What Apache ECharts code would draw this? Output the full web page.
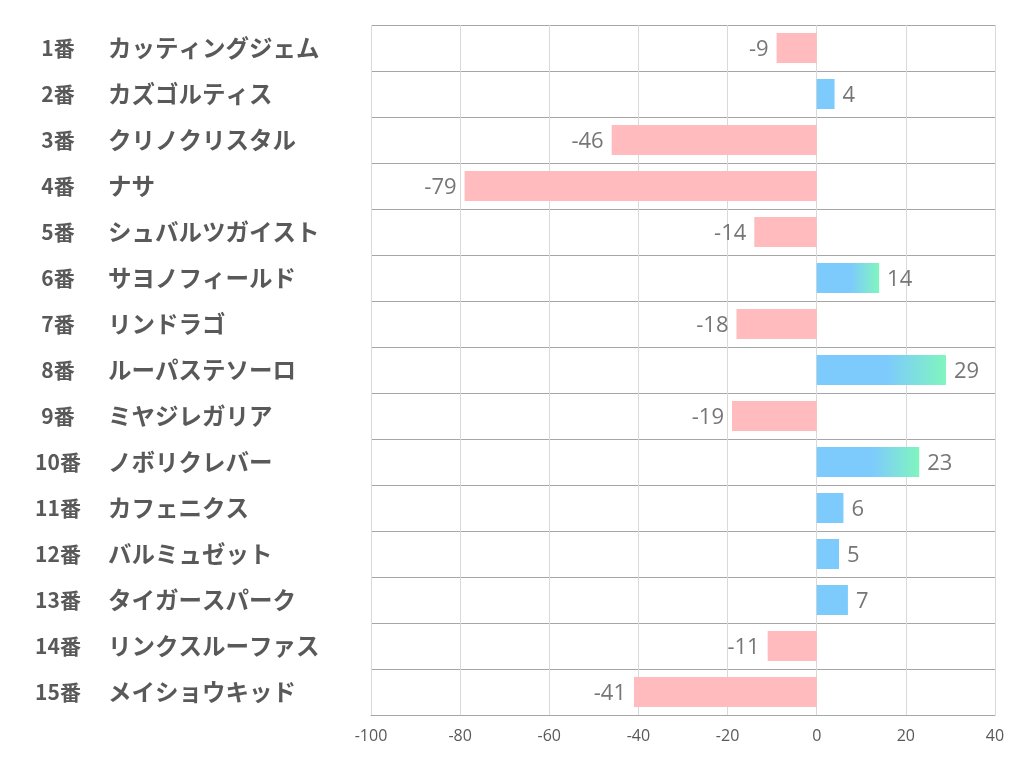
<!DOCTYPE html>
<html>
<head>
<meta charset="utf-8">
<script src="https://cdn.jsdelivr.net/npm/echarts@6/dist/echarts.min.js"></script>
<style>html,body{margin:0;padding:0;background:#fff;}#c{width:1022px;height:782px;}</style>
</head>
<body>
<div id="c"></div>
<script>
const horseNumbers = ['1番','2番','3番','4番','5番','6番','7番','8番','9番','10番','11番','12番','13番','14番','15番'];
const horseNames = ['カッティングジェム','カズゴルティス','クリノクリスタル','ナサ','シュバルツガイスト','サヨノフィールド','リンドラゴ','ルーパステソーロ','ミヤジレガリア','ノボリクレバー','カフェニクス','バルミュゼット','タイガースパーク','リンクスルーファス','メイショウキッド'];
const values = [-9, 4, -46, -79, -14, 14, -18, 29, -19, 23, 6, 5, 7, -11, -41];
const xTicks = [-100, -80, -60, -40, -20, 0, 20, 40];

const categories = horseNumbers.map((n, i) => n + '|' + horseNames[i]);
const PINK = '#FFBBBE', BLUE = '#7DCBFC', GREEN = '#80F5BF';

const chart = echarts.init(document.getElementById('c'));
chart.setOption({
  animation: false,
  backgroundColor: '#fff',
  grid: { left: 371, right: 27, top: 25, bottom: 67, containLabel: false },
  xAxis: {
    type: 'value', min: xTicks[0], max: xTicks[xTicks.length - 1], interval: 20,
    axisLine: { show: true, lineStyle: { color: '#a6a6a6', width: 1 } },
    axisTick: { show: false },
    axisLabel: { color: '#595959', fontSize: 16, fontFamily: 'Open Sans, sans-serif', margin: 13 },
    splitLine: { show: true, lineStyle: { color: '#d9d9d9', width: 1 } }
  },
  yAxis: {
    type: 'category', inverse: true, data: categories,
    axisLine: { show: false }, axisTick: { show: false },
    splitLine: { show: true, lineStyle: { color: '#a6a6a6', width: 1 } },
    axisLabel: {
      align: 'left', margin: 336,
      formatter: function (v) { const p = v.split('|'); return '{n|' + p[0] + '}{s|' + p[1] + '}'; },
      rich: {
        n: { width: 46, align: 'right', fontSize: 21, fontWeight: 'bold', color: '#595959', fontFamily: 'Noto Sans CJK JP' },
        s: { padding: [0, 0, 0, 27], fontSize: 23.5, fontWeight: 'bold', color: '#595959', fontFamily: 'Noto Sans CJK JP' }
      }
    }
  },
  series: [{
    type: 'bar', barWidth: 30,
    data: values.map(v => ({
      value: v,
      itemStyle: {
        color: v < 0 ? PINK : (v >= 10 ? new echarts.graphic.LinearGradient(0, 0, 1, 0, [
          { offset: 0, color: BLUE }, { offset: 0.55, color: BLUE }, { offset: 1, color: GREEN }
        ]) : BLUE)
      },
      label: { position: v < 0 ? 'left' : 'right' }
    })),
    label: {
      show: true, distance: 8, color: '#767676', fontSize: 22, offset: [0, 2],
      fontFamily: 'Open Sans, sans-serif'
    }
  }]
});
</script>
</body>
</html>
